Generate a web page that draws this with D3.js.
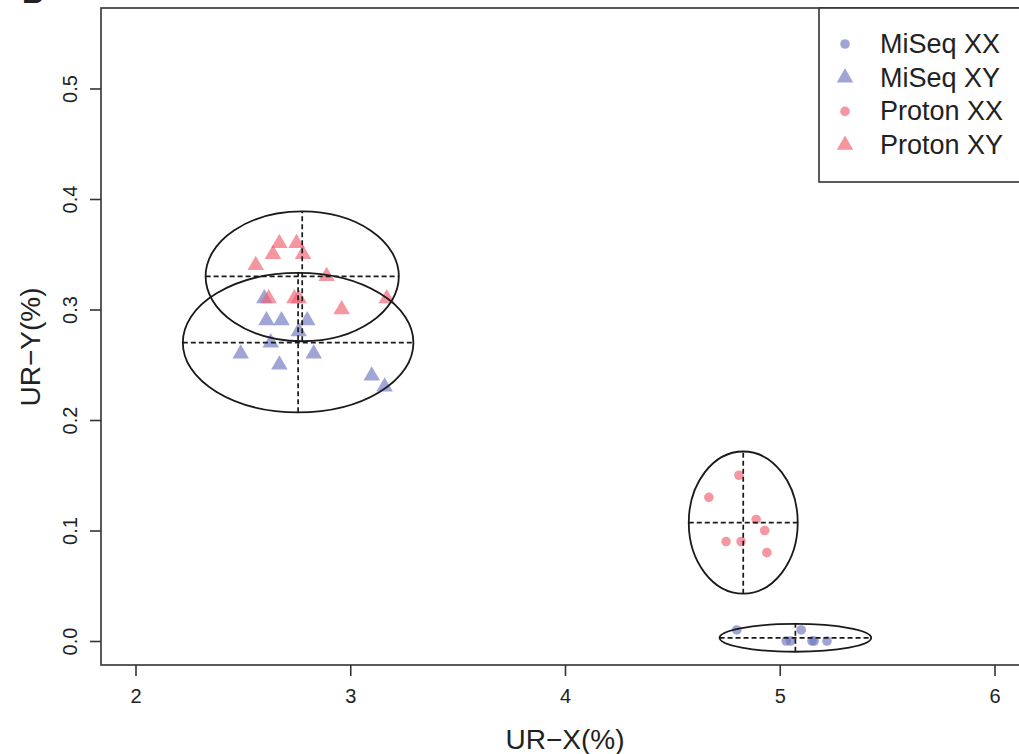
<!DOCTYPE html>
<html>
<head>
<meta charset="utf-8">
<script src="https://cdn.jsdelivr.net/npm/d3@7"></script>
<style>
  body { margin: 0; background: #fff; }
  text { font-family: "Liberation Sans", Arial, sans-serif; fill: #222; }
</style>
</head>
<body>
<script>
var w = 1019,
    h = 754;

// data
var groups = ["MiSeq XX", "MiSeq XY", "Proton XX", "Proton XY"];

var miseqXX_x = [4.80, 5.03, 5.05, 5.10, 5.15, 5.16, 5.22];
var miseqXX_y = [0.01, 0.00, 0.00, 0.01, 0.00, 0.00, 0.00];

var miseqXY_x = [2.60, 2.61, 2.68, 2.80, 2.76, 2.63, 2.49, 2.83, 2.67, 3.10, 3.16];
var miseqXY_y = [0.31, 0.29, 0.29, 0.29, 0.28, 0.27, 0.26, 0.26, 0.25, 0.24, 0.23];

var protonXX_x = [4.81, 4.67, 4.89, 4.93, 4.75, 4.82, 4.94];
var protonXX_y = [0.15, 0.13, 0.11, 0.10, 0.09, 0.09, 0.08];

var protonXY_x = [2.67, 2.75, 2.64, 2.78, 2.56, 2.89, 3.17, 2.96, 2.62, 2.74, 2.76];
var protonXY_y = [0.36, 0.36, 0.35, 0.35, 0.34, 0.33, 0.31, 0.30, 0.31, 0.31, 0.31];

var xTicks = [2, 3, 4, 5, 6];
var yTicks = [0.0, 0.1, 0.2, 0.3, 0.4, 0.5];

var z = 2.576; // ellipse half-axes = z * sd

var blue = "rgba(110,120,192,0.66)",
    pink = "rgba(240,95,112,0.66)";

var series = [
  { name: groups[0], xs: miseqXX_x, ys: miseqXX_y, shape: "circle",   color: blue },
  { name: groups[1], xs: miseqXY_x, ys: miseqXY_y, shape: "triangle", color: blue },
  { name: groups[2], xs: protonXX_x, ys: protonXX_y, shape: "circle",   color: pink },
  { name: groups[3], xs: protonXY_x, ys: protonXY_y, shape: "triangle", color: pink }
];

var svg = d3.select("body").append("svg")
    .attr("width", w)
    .attr("height", h);

var x = d3.scaleLinear().domain([2, 6]).range([135.5, 994.5]);
var y = d3.scaleLinear().domain([0, 0.5]).range([641, 88.5]);

var boxLeft = 101, boxTop = 8, boxBottom = 665, boxRight = 1030;

// panel letter, mostly cut off like in the original
svg.append("text").text("B")
    .attr("x", 22).attr("y", 3)
    .style("font-size", "30px").style("font-weight", "bold");

// x axis
var xAxis = svg.append("g")
    .attr("transform", "translate(0," + boxBottom + ")")
    .call(d3.axisBottom(x).tickValues(xTicks).tickSize(11).tickPadding(13).tickFormat(d3.format("d")));
xAxis.select(".domain").remove();
xAxis.selectAll("line").attr("stroke", "#333").attr("stroke-width", 1.6);
xAxis.selectAll("text").style("font-size", "20px").attr("fill", "#333");

// y axis, labels rotated like R
var yAxis = svg.append("g")
    .attr("transform", "translate(" + boxLeft + ",0)")
    .call(d3.axisLeft(y).tickValues(yTicks).tickSize(11).tickFormat(d3.format(".1f")));
yAxis.select(".domain").remove();
yAxis.selectAll("line").attr("stroke", "#333").attr("stroke-width", 1.6);
yAxis.selectAll("text")
    .attr("x", null).attr("dy", null)
    .attr("text-anchor", "middle")
    .attr("dominant-baseline", "central")
    .attr("transform", "translate(-31,0) rotate(-90)")
    .style("font-size", "20px").attr("fill", "#333");

// axis titles
svg.append("text").text("UR\u2212X(%)")
    .attr("x", 565).attr("y", 749)
    .attr("text-anchor", "middle")
    .style("font-size", "28px");
svg.append("text").text("UR\u2212Y(%)")
    .attr("transform", "translate(40,347) rotate(-90)")
    .attr("text-anchor", "middle")
    .style("font-size", "28px");

// points
var tri = d3.symbol().type(d3.symbolTriangle).size(118);
series.forEach(function(s) {
  var pts = s.xs.map(function(v, i) { return [v, s.ys[i]]; });
  var g = svg.append("g");
  if (s.shape == "circle") {
    g.selectAll("circle").data(pts).enter().append("circle")
      .attr("cx", function(d) { return x(d[0]); })
      .attr("cy", function(d) { return y(d[1]); })
      .attr("r", 4.8)
      .style("fill", s.color);
  } else {
    g.selectAll("path").data(pts).enter().append("path")
      .attr("d", tri)
      .attr("transform", function(d) { return "translate(" + x(d[0]) + "," + y(d[1]) + ")"; })
      .style("fill", s.color);
  }
});

// ellipses with dashed cross at the mean
series.forEach(function(s) {
  var mx = d3.mean(s.xs), my = d3.mean(s.ys);
  var rx = z * d3.deviation(s.xs), ry = z * d3.deviation(s.ys);
  var g = svg.append("g").style("fill", "none").style("stroke", "#1a1a1a");
  g.append("ellipse")
    .attr("cx", x(mx)).attr("cy", y(my))
    .attr("rx", x(mx + rx) - x(mx))
    .attr("ry", y(my) - y(my + ry))
    .style("stroke-width", 1.8);
  g.append("line")
    .attr("x1", x(mx - rx)).attr("x2", x(mx + rx))
    .attr("y1", y(my)).attr("y2", y(my))
    .style("stroke-width", 1.7).style("stroke-dasharray", "5,3");
  g.append("line")
    .attr("x1", x(mx)).attr("x2", x(mx))
    .attr("y1", y(my - ry)).attr("y2", y(my + ry))
    .style("stroke-width", 1.7).style("stroke-dasharray", "5,3");
});

// plot box
svg.append("rect")
    .attr("x", boxLeft).attr("y", boxTop)
    .attr("width", boxRight - boxLeft).attr("height", boxBottom - boxTop)
    .style("fill", "none").style("stroke", "#333").style("stroke-width", 1.6);

// legend
var leg = svg.append("g");
leg.append("rect")
    .attr("x", 819).attr("y", boxTop)
    .attr("width", 220).attr("height", 182 - boxTop)
    .style("fill", "#fff").style("stroke", "#333").style("stroke-width", 1.6);
var rows = leg.selectAll("g.row").data(series).enter().append("g")
    .attr("class", "row")
    .attr("transform", function(d, i) { return "translate(845," + (44 + i * 33.7) + ")"; });
rows.each(function(d) {
  var r = d3.select(this);
  if (d.shape == "circle") {
    r.append("circle").attr("r", 4.8).style("fill", d.color);
  } else {
    r.append("path").attr("d", tri).style("fill", d.color);
  }
});
rows.append("text")
    .text(function(d) { return d.name; })
    .attr("x", 35)
    .attr("dominant-baseline", "central")
    .style("font-size", "27px");
</script>
</body>
</html>
